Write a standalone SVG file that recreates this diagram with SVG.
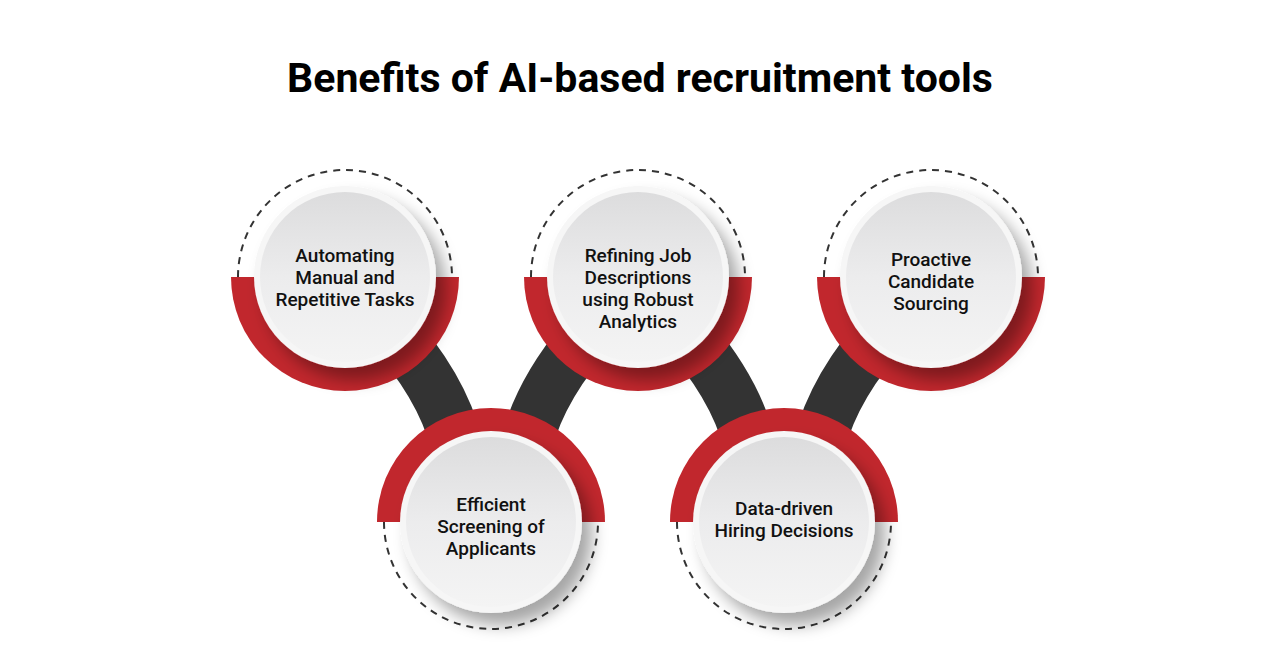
<svg xmlns="http://www.w3.org/2000/svg" width="1280" height="670" viewBox="0 0 1280 670">
<defs>
<linearGradient id="g" x1="0" y1="0" x2="0" y2="1"><stop offset="0" stop-color="#dcdcdd"/><stop offset="0.5" stop-color="#ececed"/><stop offset="1" stop-color="#f4f4f4"/></linearGradient>
<filter id="sh" x="-40%" y="-40%" width="180%" height="180%"><feDropShadow dx="10" dy="12" stdDeviation="8" flood-color="#000" flood-opacity="0.35"/></filter>
<g id="circ">
<circle r="91" fill="#f6f6f6" filter="url(#sh)"/>
<circle r="85" fill="url(#g)"/>
</g>
</defs>
<style>
.t{font-family:Roboto,"Liberation Sans",sans-serif;font-size:19px;font-weight:500;fill:#111;text-anchor:middle}
.d{fill:none;stroke:#333;stroke-width:2;stroke-dasharray:7 6}
.red{fill:#c1272d}
.c{fill:none;stroke:#333;stroke-width:52}
</style>
<rect width="1280" height="670" fill="#fff"/>
<text x="640" y="92" font-family="Roboto,'Liberation Sans',sans-serif" font-size="41" font-weight="700" text-anchor="middle" fill="#000">Benefits of AI-based recruitment tools</text>
<g id="connectors">
<path class="c" d="M400 340 Q450 400 460 460"/>
<path class="c" d="M583 340 Q533 400 523 460"/>
<path class="c" d="M693 340 Q743 400 753 460"/>
<path class="c" d="M876 340 Q826 400 816 460"/>
</g>
<g id="n1">
<path class="d" d="M238 277 A107 107 0 0 1 452 277"/>
<path class="red" d="M231 277 A114 114 0 0 0 459 277 Z"/>
<use href="#circ" x="345" y="277"/>
<text class="t" x="345" y="262">Automating</text><text class="t" x="345" y="284">Manual and</text><text class="t" x="345" y="306">Repetitive Tasks</text>
</g>
<g id="n2">
<path class="d" d="M531 277 A107 107 0 0 1 745 277"/>
<path class="red" d="M524 277 A114 114 0 0 0 752 277 Z"/>
<use href="#circ" x="638" y="277"/>
<text class="t" x="638" y="262">Refining Job</text><text class="t" x="638" y="284">Descriptions</text><text class="t" x="638" y="306">using Robust</text><text class="t" x="638" y="328">Analytics</text>
</g>
<g id="n3">
<path class="d" d="M824 277 A107 107 0 0 1 1038 277"/>
<path class="red" d="M817 277 A114 114 0 0 0 1045 277 Z"/>
<use href="#circ" x="931" y="277"/>
<text class="t" x="931" y="266">Proactive</text><text class="t" x="931" y="288">Candidate</text><text class="t" x="931" y="310">Sourcing</text>
</g>
<g id="n4">
<path class="d" d="M384 522 A107 107 0 0 0 598 522"/>
<path class="red" d="M377 522 A114 114 0 0 1 605 522 Z"/>
<use href="#circ" x="491" y="522"/>
<text class="t" x="491" y="511">Efficient</text><text class="t" x="491" y="533">Screening of</text><text class="t" x="491" y="555">Applicants</text>
</g>
<g id="n5">
<path class="d" d="M677 522 A107 107 0 0 0 891 522"/>
<path class="red" d="M670 522 A114 114 0 0 1 898 522 Z"/>
<use href="#circ" x="784" y="522"/>
<text class="t" x="784" y="515">Data-driven</text><text class="t" x="784" y="537">Hiring Decisions</text>
</g>
</svg>
